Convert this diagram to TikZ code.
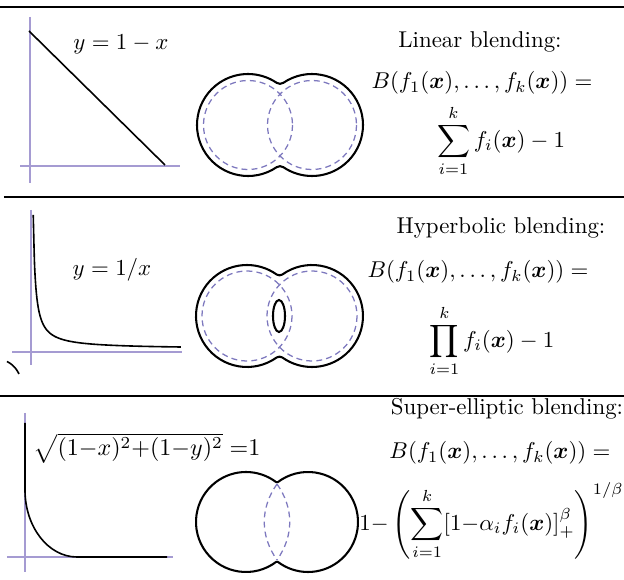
\documentclass[tikz,border=0pt]{standalone}
\usepackage{amsmath}
\usetikzlibrary{calc}
\definecolor{axiscol}{RGB}{165,155,210}
\definecolor{dashcol}{RGB}{125,120,190}
\tikzset{
  rule/.style={line width=0.9pt,black},
  axis/.style={line width=0.5pt,axiscol},
  curve/.style={line width=0.7pt,black},
  outline/.style={line width=0.9pt,black},
  prim/.style={line width=0.55pt,dashcol,dash pattern=on 2.6pt off 1.8pt},
  txt/.style={inner sep=0pt,font=\normalsize}
}
% blended outline of two circles: cx1, cx2, cy, R, rho, style
\newcommand\blendshape[6]{%
  \pgfmathsetmacro\hh{(#2-#1)/2}%
  \pgfmathsetmacro\ss{sqrt((#4+#5)^2-\hh^2)}%
  \pgfmathsetmacro\aa{atan2(\ss,\hh)}%
  \draw[#6] (#1,#3) ++(\aa:#4)
    arc[start angle=\aa, end angle=360-\aa, radius=#4]
    arc[start angle=180-\aa, end angle=\aa, radius=#5]
    arc[start angle=180+\aa, end angle=540-\aa, radius=#4]
    arc[start angle=-\aa, end angle=\aa-180, radius=#5] -- cycle;%
}
\begin{document}
\begin{tikzpicture}[x=0.437pt,y=-0.437pt]
\useasboundingbox (0,0) rectangle (624,580);
% rules
\coordinate (r1a) at (0,7);   \coordinate (r1b) at (624,7);
\coordinate (r2a) at (4,197); \coordinate (r2b) at (624,197);
\coordinate (r3a) at (0,396); \coordinate (r3b) at (624,396);
\draw[rule] (r1a) -- (r1b);
\draw[rule] (r2a) -- (r2b);
\draw[rule] (r3a) -- (r3b);

% ---------- panel 1 ----------
\coordinate (a1t) at (30,17);  \coordinate (a1b) at (30,183);
\coordinate (a1l) at (20,166); \coordinate (a1r) at (180,166);
\draw[axis] (a1t) -- (a1b);
\draw[axis] (a1l) -- (a1r);
\coordinate (l1a) at (29,31); \coordinate (l1b) at (165,165);
\draw[curve] (l1a) -- (l1b);
\node[txt] (eq1) at (121,44) {$y=1-x$};
\draw[prim] (248,125) circle[radius=44.5];
\draw[prim] (312,125) circle[radius=44.5];
\blendshape{248}{312}{125}{51}{6}{outline}
\node[txt] (t1) at (480,42) {Linear blending:};
\node[txt] (b1) at (482,83) {$B(f_1(\boldsymbol{x}),\ldots,f_k(\boldsymbol{x}))=$};
\node[txt] (s1) at (501,141) {$\displaystyle\sum_{i=1}^{k} f_i(\boldsymbol{x})-1$};

% ---------- panel 2 ----------
\coordinate (a2t) at (31,210); \coordinate (a2b) at (31,365);
\coordinate (a2l) at (12,352); \coordinate (a2r) at (182,352);
\draw[axis] (a2t) -- (a2b);
\draw[axis] (a2l) -- (a2r);
\draw[curve] plot[domain=0.0746:5,samples=120,smooth] ({31+30*\x},{349-10/\x});
\draw[curve] plot[domain=-0.8:-0.4,samples=20,smooth] ({31+30*\x},{349-10/\x});
\node[txt] (eq2) at (112,270) {$y=1/x$};
\draw[prim] (247,316) circle[radius=45];
\draw[prim] (312,316) circle[radius=45];
\blendshape{247}{312}{316}{51}{5}{outline}
\draw[outline] (279,316) ellipse[x radius=6, y radius=16];
\node[txt] (t2) at (501,228) {Hyperbolic blending:};
\node[txt] (b2) at (478,272) {$B(f_1(\boldsymbol{x}),\ldots,f_k(\boldsymbol{x}))=$};
\node[txt] (s2) at (492,341) {$\displaystyle\prod_{i=1}^{k} f_i(\boldsymbol{x})-1$};

% ---------- panel 3 ----------
\coordinate (a3t) at (25,413); \coordinate (a3b) at (25,572);
\coordinate (a3l) at (7,557);  \coordinate (a3r) at (173,557);
\draw[axis] (a3t) -- (a3b);
\draw[axis] (a3l) -- (a3r);
\coordinate (c3a) at (25,423); \coordinate (c3b) at (25,490);
\coordinate (c3c) at (167,557);
\draw[curve] (c3a) -- (c3b) arc[start angle=180, end angle=90, x radius=52, y radius=67] -- (c3c);
\node[txt,anchor=west,scale=1.05] (eq3) at (33,448) {$\sqrt{(1{-}x)^2{+}(1{-}y)^2}\;{=}1$};
\coordinate (n3t) at (277,484); \coordinate (n3b) at (277,560);
\draw[prim] (n3t) to[bend left=35] (n3b);
\draw[prim] (n3t) to[bend right=35] (n3b);
\blendshape{246}{308}{522}{50}{1.5}{outline}
\node[txt] (t3) at (507,409) {Super-elliptic blending:};
\node[txt] (b3) at (500,453) {$B(f_1(\boldsymbol{x}),\ldots,f_k(\boldsymbol{x}))=$};
\node[txt,anchor=west] (s3) at (359,521) {$1{-}\left(\displaystyle\sum_{i=1}^{k}[1{-}\alpha_i f_i(\boldsymbol{x})]_+^{\beta}\right)^{1/\beta}$};
\end{tikzpicture}
\end{document}
